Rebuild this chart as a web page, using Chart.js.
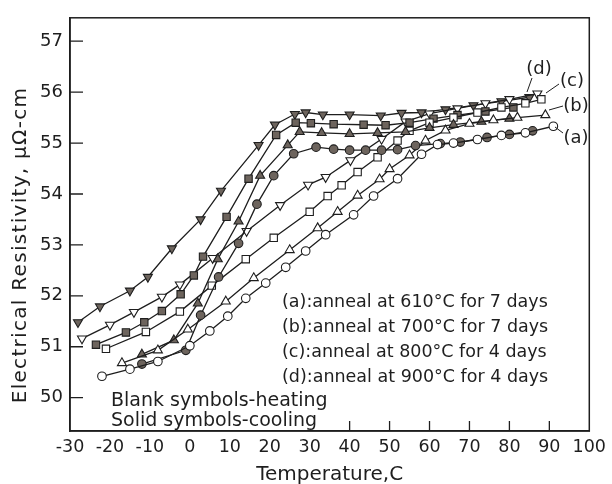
<!DOCTYPE html>
<html>
<head>
<meta charset="utf-8">
<script src="https://cdn.jsdelivr.net/npm/chart.js@4.4.1/dist/chart.umd.min.js"></script>
<style>
    html, body { margin: 0; padding: 0; background: #fff; }
    canvas { display: block; }
</style>
</head>
<body>
<canvas id="chart" width="612" height="484"></canvas>
<script>
// (a) anneal 610C / 7 days
const aHeatT = [-22, -15, -8, 0, 5, 9.5, 14, 19, 24, 29, 34, 41, 46, 52, 58, 62, 66, 72, 78, 84, 91];
const aHeatR = [50.42, 50.56, 50.71, 51.02, 51.31, 51.6, 51.95, 52.25, 52.56, 52.88, 53.2, 53.59, 53.96, 54.3, 54.78, 54.97, 55.0, 55.07, 55.15, 55.2, 55.33];
const aCoolT = [-12, -1, 2.7, 7.2, 12.2, 16.8, 21, 26, 31.6, 36, 40, 44, 48, 52, 56.5, 62.7, 67.7, 74.4, 80, 85.8];
const aCoolR = [50.66, 50.93, 51.62, 52.37, 53.03, 53.8, 54.36, 54.79, 54.92, 54.88, 54.86, 54.86, 54.86, 54.87, 54.95, 54.99, 55.02, 55.11, 55.17, 55.24];

// (b) anneal 700C / 7 days
const bHeatT = [-17, -8, -0.5, 9, 16, 25, 32, 37, 42, 47.5, 50, 55, 59, 64, 70, 76, 82, 89];
const bHeatR = [50.68, 50.93, 51.34, 51.89, 52.35, 52.9, 53.33, 53.65, 53.97, 54.29, 54.49, 54.76, 55.05, 55.25, 55.38, 55.45, 55.5, 55.55];
const bCoolT = [-12, -4, 2, 7, 12.2, 17.6, 24.5, 27.5, 33, 40, 47, 54, 60, 66, 73, 80];
const bCoolR = [50.85, 51.13, 51.85, 52.72, 53.46, 54.36, 54.96, 55.22, 55.2, 55.18, 55.2, 55.22, 55.3, 55.36, 55.42, 55.48];

// (c) anneal 800C / 4 days
const cHeatT = [-21, -11, -2.5, 5.5, 14, 21, 30, 34.5, 38, 42, 47, 52, 55, 60, 66, 72, 78, 84, 88];
const cHeatR = [50.96, 51.29, 51.69, 52.2, 52.72, 53.14, 53.65, 53.96, 54.17, 54.43, 54.72, 55.05, 55.24, 55.4, 55.5, 55.6, 55.7, 55.78, 55.86];
const cCoolT = [-23.5, -16, -11.4, -7, -2.3, 1, 3.3, 9.2, 14.7, 21.6, 26.5, 30.3, 36, 43.5, 49, 55, 61, 67, 74, 81];
const cCoolR = [51.04, 51.28, 51.48, 51.7, 52.03, 52.4, 52.77, 53.55, 54.3, 55.16, 55.4, 55.39, 55.37, 55.36, 55.35, 55.4, 55.48, 55.55, 55.62, 55.7];

// (d) anneal 900C / 4 days
const dHeatT = [-27, -20, -14, -7, -2.5, 5.7, 14.2, 22.6, 29.6, 34, 40.2, 48, 54, 60, 67, 74, 80, 87];
const dHeatR = [51.16, 51.43, 51.68, 51.98, 52.22, 52.74, 53.27, 53.78, 54.18, 54.33, 54.66, 55.08, 55.42, 55.58, 55.68, 55.78, 55.86, 55.97];
const dCoolT = [-28, -22.5, -15, -10.5, -4.5, 2.7, 7.8, 17.2, 21.3, 26.3, 29, 33.3, 40, 47.8, 53, 58, 64, 71, 78, 85];
const dCoolR = [51.48, 51.79, 52.1, 52.37, 52.93, 53.5, 54.06, 54.96, 55.36, 55.57, 55.6, 55.56, 55.56, 55.54, 55.59, 55.6, 55.66, 55.74, 55.82, 55.9];

const xTicks = [-30, -20, -10, 0, 10, 20, 30, 40, 50, 60, 70, 80, 90, 100];
const yTicks = [50, 51, 52, 53, 54, 55, 56, 57];
const innerXTicks = [40, 50, 60, 70, 80, 90];

const curveLabels = ['(a)', '(b)', '(c)', '(d)'];
const noteLines = [
    '(a):anneal at 610°C for 7 days',
    '(b):anneal at 700°C for 7 days',
    '(c):anneal at 800°C for 4 days',
    '(d):anneal at 900°C for 4 days'
];
const symbolNotes = ['Blank symbols-heating', 'Solid symbols-cooling'];

const INK = '#1e1e1e';
const SOLID = '#6d645d';
const FONT = '"DejaVu Sans", sans-serif';

function pts(t, r) {
    return t.map((x, i) => ({ x: x, y: r[i] }));
}

function series(label, t, r, shape, solid, rotation) {
    const radius = shape === 'circle' ? 4.3 : 5.2;
    return {
        label: label,
        data: pts(t, r),
        showLine: true,
        tension: 0,
        borderColor: INK,
        borderWidth: 1.3,
        pointStyle: shape,
        pointRotation: rotation || 0,
        pointRadius: radius,
        pointBackgroundColor: solid ? SOLID : '#ffffff',
        pointBorderColor: INK,
        pointBorderWidth: 1.1
    };
}

const decorPlugin = {
    id: 'decor',
    afterDraw(chart) {
        const ctx = chart.ctx;
        const area = chart.chartArea;
        const xs = chart.scales.x;
        const ys = chart.scales.y;
        ctx.save();
        ctx.strokeStyle = INK;
        ctx.lineWidth = 1.5;
        ctx.strokeRect(area.left, area.top, area.right - area.left, area.bottom - area.top);

        // inward tick marks
        ctx.lineWidth = 1.3;
        ctx.beginPath();
        yTicks.forEach(v => {
            const py = ys.getPixelForValue(v);
            ctx.moveTo(area.left, py);
            ctx.lineTo(area.left + 13, py);
        });
        innerXTicks.forEach(v => {
            const px = xs.getPixelForValue(v);
            ctx.moveTo(px, area.bottom);
            ctx.lineTo(px, area.bottom - 10);
        });
        ctx.stroke();

        // y axis title
        ctx.fillStyle = INK;
        ctx.textAlign = 'center';
        ctx.textBaseline = 'middle';
        ctx.save();
        ctx.font = '20px ' + FONT;
        ctx.letterSpacing = '1.3px';
        ctx.translate(21, 245);
        ctx.rotate(-Math.PI / 2);
        ctx.fillText('Electrical Resistivity, μΩ-cm', 0, 0);
        ctx.restore();

        // curve labels with leader lines
        ctx.font = '18px ' + FONT;
        const labelPos = [[576, 138], [576, 106], [572, 81], [539, 69]];
        const leaders = [[[563, 133], [555, 127]], [[563, 106], [549, 110]], [[559, 84], [546, 93]], [[532, 78], [527, 92]]];
        curveLabels.forEach((t, i) => {
            ctx.fillText(t, labelPos[i][0], labelPos[i][1]);
            ctx.beginPath();
            ctx.moveTo(leaders[i][0][0], leaders[i][0][1]);
            ctx.lineTo(leaders[i][1][0], leaders[i][1][1]);
            ctx.lineWidth = 1;
            ctx.stroke();
        });

        // notes
        ctx.textAlign = 'left';
        ctx.font = '17.5px ' + FONT;
        noteLines.forEach((t, i) => ctx.fillText(t, 282, 302 + i * 25));
        ctx.font = '19px ' + FONT;
        symbolNotes.forEach((t, i) => ctx.fillText(t, 111, 401 + i * 20));
        ctx.restore();
    }
};

new Chart(document.getElementById('chart').getContext('2d'), {
    type: 'scatter',
    data: {
        datasets: [
            series('(a) heating', aHeatT, aHeatR, 'circle', false),
            series('(a) cooling', aCoolT, aCoolR, 'circle', true),
            series('(b) heating', bHeatT, bHeatR, 'triangle', false),
            series('(b) cooling', bCoolT, bCoolR, 'triangle', true),
            series('(c) heating', cHeatT, cHeatR, 'rect', false),
            series('(c) cooling', cCoolT, cCoolR, 'rect', true),
            series('(d) heating', dHeatT, dHeatR, 'triangle', false, 180),
            series('(d) cooling', dCoolT, dCoolR, 'triangle', true, 180)
        ]
    },
    options: {
        responsive: false,
        animation: false,
        layout: { padding: { left: 0, top: 10, right: 19, bottom: 0 } },
        plugins: {
            legend: { display: false },
            tooltip: { enabled: false }
        },
        scales: {
            x: {
                type: 'linear',
                min: -30,
                max: 100,
                afterBuildTicks: s => { s.ticks = xTicks.map(v => ({ value: v })); },
                afterFit: s => { s.height = 53; },
                grid: { display: false, drawTicks: false },
                border: { color: INK, width: 1.5 },
                ticks: { color: INK, font: { family: FONT, size: 17.5 }, padding: 6, maxRotation: 0 },
                title: { display: true, text: 'Temperature,C', color: INK, font: { family: FONT, size: 20 }, padding: { top: 0, bottom: -3 } }
            },
            y: {
                type: 'linear',
                min: 49.345,
                max: 57.46,
                afterBuildTicks: s => { s.ticks = yTicks.map(v => ({ value: v })); },
                afterFit: s => { s.width = 70; },
                grid: { display: false, drawTicks: false },
                border: { color: INK, width: 1.5 },
                ticks: { color: INK, font: { family: FONT, size: 18 }, padding: 7 }
            }
        }
    },
    plugins: [decorPlugin]
});
</script>
</body>
</html>
